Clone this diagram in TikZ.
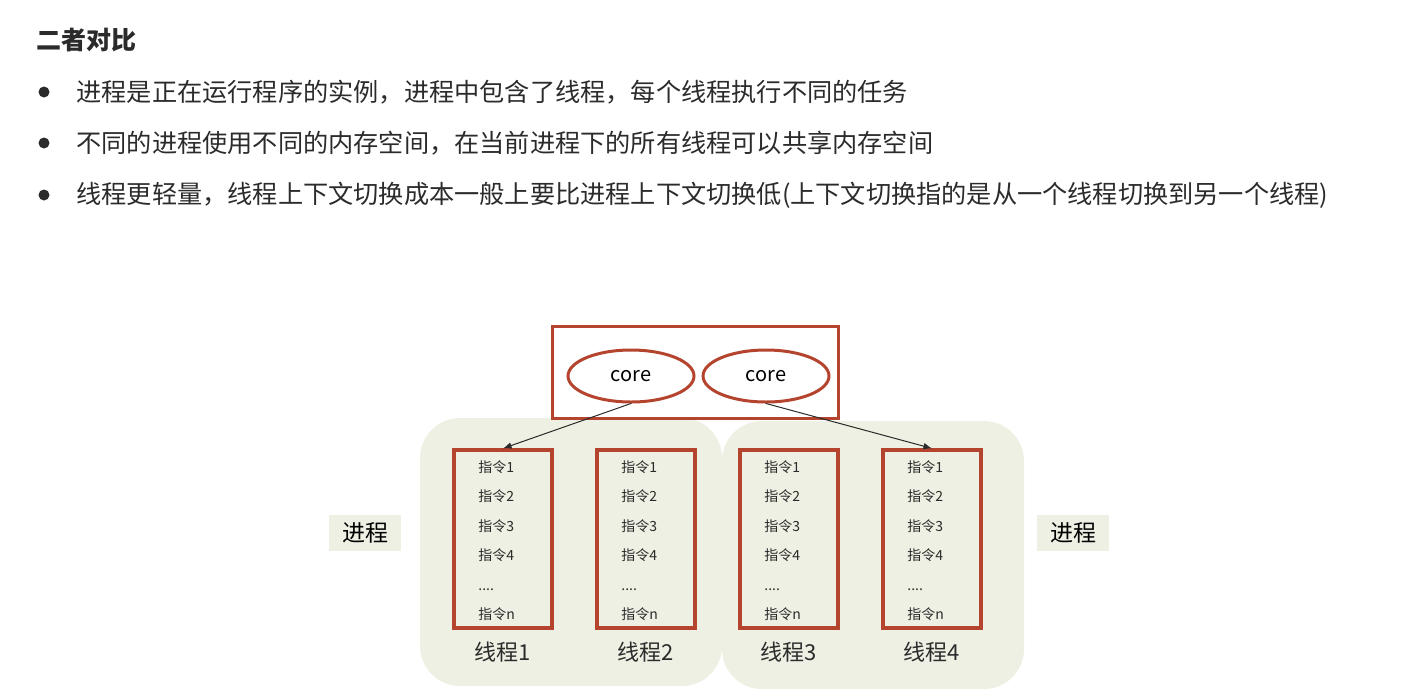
\documentclass[tikz,border=0pt]{standalone}
\usepackage{fontspec}
\setmainfont{Noto Sans CJK SC}
\usetikzlibrary{shapes.geometric,arrows}

\definecolor{rust}{HTML}{B5442E}
\definecolor{sage}{HTML}{EDF0E2}
\definecolor{ink}{HTML}{2B2B2B}

\begin{document}
\begin{tikzpicture}[x=0.5pt,y=-0.5pt,line cap=round,
    txt/.style={text=ink,inner sep=0pt},
    procbg/.style={fill=sage,rounded corners=20pt,minimum width=151pt,minimum height=134pt},
    thread/.style={draw=rust,line width=1.6pt,minimum width=49pt,minimum height=89pt},
    core/.style={ellipse,draw=rust,line width=1.5pt,minimum width=63pt,minimum height=26pt,inner sep=0pt,font=\fontsize{10}{11}\selectfont},
    tag/.style={fill=sage,minimum width=36pt,minimum height=18pt,inner sep=0pt,font=\fontsize{11.5}{12}\selectfont}]
  \useasboundingbox (0,0) rectangle (1411,696);

  \node[txt,anchor=west,font=\fontsize{12.5}{14}\bfseries] (title) at (36,40) {二者对比};
  \foreach \y/\s [count=\i] in {92/进程是正在运行程序的实例，进程中包含了线程，每个线程执行不同的任务,
      143/不同的进程使用不同的内存空间，在当前进程下的所有线程可以共享内存空间,
      195/线程更轻量，线程上下文切换成本一般上要比进程上下文切换低(上下文切换指的是从一个线程切换到另一个线程)} {
    \node[circle,fill=ink,minimum size=5.5pt,inner sep=0pt] (dot\i) at (44,\y) {};
    \node[txt,anchor=west,font=\fontsize{12.6}{14}\selectfont] (item\i) at (76,\y) {\s};
  }

  % two processes
  \node[procbg] (p1) at (571,552) {};
  \node[procbg] (p2) at (873,555) {};

  % cpu
  \node[draw=rust,line width=1.5pt,minimum width=143pt,minimum height=46pt] (cpu) at (695,372) {};
  \node[core] (c1) at (631,376) {core};
  \node[core] (c2) at (766,376) {core};

  \foreach \x [count=\i] in {503,646,789,932} {
    \node[thread] (t\i) at (\x,539) {};
    \node[txt,anchor=north west,align=left,font=\fontsize{7}{14.75}\selectfont] (ins\i) at (\x-25,460)
      {指令1\\指令2\\指令3\\指令4\\....\\指令n};
    \node[txt,font=\fontsize{11}{12}\selectfont] (lbl\i) at (\x,652) {线程\i};
  }

  \node[tag] (pl) at (365,533) {进程};
  \node[tag] (pr) at (1073,533) {进程};

  \draw[ink,line width=.5pt,-latex] (c1.south) -- (t1.north);
  \draw[ink,line width=.5pt,-latex] (c2.south) -- (t4.north);
\end{tikzpicture}
\end{document}
